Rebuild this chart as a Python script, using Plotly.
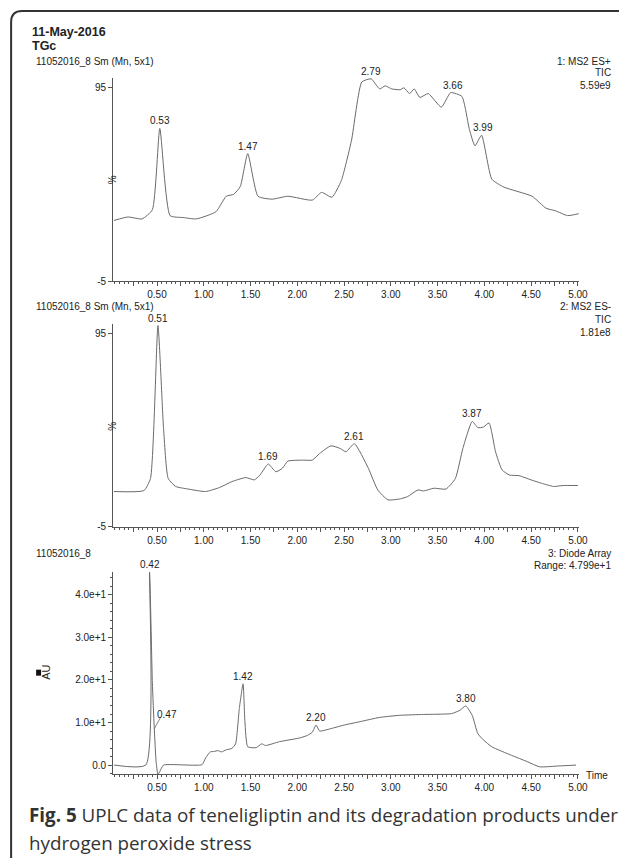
import plotly.graph_objects as go

# ---------------- data ----------------
t1 = [0.04, 0.19, 0.34, 0.45, 0.53, 0.64, 0.78, 0.92, 1.13, 1.24, 1.32, 1.39, 1.47, 1.58,
      1.73, 1.90, 2.16, 2.26, 2.37, 2.47, 2.58, 2.69, 2.79, 2.88, 2.94, 3.01, 3.10, 3.14,
      3.20, 3.25, 3.31, 3.40, 3.54, 3.64, 3.76, 3.84, 3.90, 3.97, 4.08, 4.21, 4.51, 4.66,
      4.76, 4.89, 5.01]
v1 = [26.5, 28.3, 27.3, 32.0, 74.0, 29.0, 28.0, 27.3, 31.0, 39.0, 40.0, 44.0, 61.0, 39.0,
      37.5, 39.0, 37.0, 41.0, 38.5, 47.0, 68.0, 98.0, 99.6, 94.4, 96.0, 94.4, 94.0, 95.0,
      92.0, 94.4, 90.0, 92.0, 85.0, 92.5, 90.5, 73.5, 65.0, 70.5, 47.8, 43.7, 39.0, 32.8,
      31.5, 29.0, 30.0]
peaks1 = [(0.53, 74.0), (1.47, 61.0), (2.79, 99.6), (3.66, 92.5), (3.99, 70.5)]

t2 = [0.04, 0.36, 0.43, 0.51, 0.57, 0.62, 0.70, 0.83, 1.02, 1.17, 1.30, 1.45, 1.54, 1.60,
      1.69, 1.77, 1.84, 1.90, 2.07, 2.16, 2.24, 2.36, 2.46, 2.52, 2.61, 2.76, 2.86, 2.97,
      3.10, 3.18, 3.29, 3.35, 3.46, 3.59, 3.69, 3.77, 3.87, 3.93, 3.99, 4.05, 4.12, 4.19,
      4.27, 4.37, 4.50, 4.61, 4.74, 4.84, 5.00]
v2 = [13.3, 13.8, 20.0, 99.0, 45.8, 20.0, 15.9, 14.6, 13.3, 15.4, 18.4, 20.5, 19.3, 21.8,
      27.5, 23.5, 25.3, 29.0, 29.5, 29.5, 33.0, 36.9, 35.5, 33.8, 38.0, 25.3, 14.1, 9.0,
      9.5, 10.7, 14.1, 13.6, 15.0, 14.6, 20.0, 35.5, 49.5, 46.3, 46.6, 48.7, 33.8, 24.4,
      21.8, 21.5, 19.3, 17.6, 15.9, 16.4, 16.4]
peaks2 = [(0.51, 99.0), (1.69, 27.5), (2.61, 38.0), (3.87, 49.5)]

t3 = [0.04, 0.38, 0.42, 0.45, 0.47, 0.49, 0.51, 0.53, 0.57, 0.98, 1.02, 1.07, 1.11, 1.15,
      1.19, 1.24, 1.30, 1.34, 1.38, 1.42, 1.44, 1.47, 1.56, 1.62, 1.66, 1.81, 2.03, 2.11,
      2.16, 2.20, 2.24, 2.33, 2.50, 2.67, 2.88, 3.10, 3.35, 3.65, 3.74, 3.80, 3.87, 3.93,
      3.99, 4.08, 4.29, 4.46, 4.59, 4.80, 4.98]
v3 = [0.0, 0.0, 45.4, 19.5, 9.0, 0.9, -2.2, -1.5, 0.0, 0.1, 1.7, 3.1, 3.2, 3.4,
      3.1, 3.6, 3.9, 5.0, 13.3, 19.1, 10.2, 4.3, 4.1, 5.0, 4.6, 5.5, 6.4, 7.0,
      7.7, 9.4, 8.0, 8.4, 9.4, 10.2, 11.2, 11.7, 11.9, 12.1, 12.9, 13.9, 11.7, 7.4,
      5.9, 4.3, 2.3, 0.8, -0.4, -0.2, 0.0]
peaks3 = [(0.42, 45.4), (1.42, 19.1), (2.20, 9.4), (3.80, 13.9)]
shoulder3 = (0.47, 9.0)

x_major = [0.25 * i for i in range(1, 21)]
x_labels = ["%.2f" % v if abs(v * 2 - round(v * 2)) < 1e-9 else "" for v in x_major]

# ---------------- figure ----------------
OFF = 8
SX, SY = 0.986, 0.995
W, H = 620, 850
FONT = "Liberation Sans, Arial, sans-serif"
LINE = "#6a6a6a"
AX = "#555555"
TXT = "#222222"


def px(X):
    return (X / SX - OFF) / W


def py(Y):
    return 1 - (Y / SY - OFF) / H


fig = go.Figure()

panels = [
    (t1, v1, peaks1, "x", "y"),
    (t2, v2, peaks2, "x2", "y2"),
    (t3, v3, peaks3, "x3", "y3"),
]
for t, v, peaks, xa, ya in panels:
    fig.add_trace(go.Scatter(x=t, y=v, mode="lines", xaxis=xa, yaxis=ya,
                             line=dict(color=LINE, width=1, shape="spline", smoothing=0.5),
                             hoverinfo="skip", showlegend=False))
    for pt, pv in peaks:
        fig.add_annotation(x=pt, y=pv, xref=xa, yref=ya, text="%.2f" % pt, showarrow=False,
                           yanchor="bottom", yshift=0,
                           font=dict(family=FONT, size=10, color=TXT))

st, sv = shoulder3
fig.add_shape(type="line", xref="x3", yref="y3", x0=st, y0=sv - 0.5, x1=st + 0.07, y1=sv + 2.3,
              line=dict(color=LINE, width=0.8))
fig.add_annotation(x=st + 0.01, y=sv + 3.0, xref="x3", yref="y3", text="%.2f" % st,
                   showarrow=False, xanchor="left", yanchor="middle",
                   font=dict(family=FONT, size=10, color=TXT))

xdom = [px(113), px(579)]
ydoms = [[py(282), py(78)], [py(528), py(325)], [py(776), py(573)]]
yranges = [[-5, 100.1], [-5, 99.6], [-2.2, 45.4]]

common_x = dict(range=[0.03, 5.01], domain=xdom, showgrid=False, zeroline=False,
                showline=True, linecolor=AX, linewidth=1, ticks="outside", ticklen=4,
                tickcolor=AX, tickwidth=1, tickmode="array", tickvals=x_major,
                ticktext=x_labels, tickfont=dict(family=FONT, size=10, color=TXT),
                minor=dict(dtick=0.05, tick0=0, ticks="outside", ticklen=2,
                           tickcolor=AX, tickwidth=1, showgrid=False))

for i, suf in enumerate(["", "2", "3"]):
    xa = dict(common_x, anchor="y" + suf)
    fig.layout["xaxis" + suf] = xa
    ya = dict(range=yranges[i], domain=ydoms[i], anchor="x" + suf, showgrid=False,
              zeroline=False, showline=True, linecolor=AX, linewidth=1, ticks="outside",
              ticklen=4, tickcolor=AX, tickwidth=1,
              tickfont=dict(family=FONT, size=10, color=TXT))
    if i < 2:
        ya.update(tickmode="array", tickvals=[-5, 95], ticktext=["-5", "95"])
    else:
        ya.update(tickmode="array", tickvals=[0, 10, 20, 30, 40],
                  ticktext=["0.0", "1.0e+1", "2.0e+1", "3.0e+1", "4.0e+1"],
                  minor=dict(dtick=2, tick0=0, ticks="outside", ticklen=2,
                             tickcolor=AX, tickwidth=1, showgrid=False))
    fig.layout["yaxis" + suf] = ya


def text(xp, yp, s, size=10, anchor="left", bold=False, angle=0, family=FONT, color=TXT):
    fig.add_annotation(x=px(xp), y=py(yp), xref="paper", yref="paper",
                       text=("<b>%s</b>" % s) if bold else s, showarrow=False,
                       xanchor=anchor, yanchor="middle", textangle=angle,
                       font=dict(family=family, size=size, color=color))


text(30, 32, "11-May-2016", size=12.5, bold=True)
text(30, 46, "TGc", size=12.5, bold=True)
text(34, 62, "11052016_8 Sm (Mn, 5x1)")
text(613, 62, "1: MS2 ES+", anchor="right")
text(613, 73, "TIC", anchor="right")
text(613, 86, "5.59e9", anchor="right")
text(105, 180, "%", angle=-90)

text(34, 307, "11052016_8 Sm (Mn, 5x1)")
text(613, 307, "2: MS2 ES-", anchor="right")
text(613, 320, "TIC", anchor="right")
text(613, 333, "1.81e8", anchor="right")
text(105, 427, "%", angle=-90)

text(34, 555, "11052016_8")
text(613, 555, "3: Diode Array", anchor="right")
text(613, 567, "Range: 4.799e+1", anchor="right")
text(46, 674, "AU", size=11, anchor="center", angle=-90)
text(584, 777, "Time")

CAP = "Open Sans, Noto Sans, sans-serif"
fig.add_annotation(x=px(27), y=py(817), xref="paper", yref="paper", showarrow=False,
                   xanchor="left", yanchor="middle",
                   text="<b>Fig. 5</b> UPLC data of teneligliptin and its degradation products under",
                   font=dict(family=CAP, size=18.8, color="#333333"))
fig.add_annotation(x=px(27), y=py(845), xref="paper", yref="paper", showarrow=False,
                   xanchor="left", yanchor="middle",
                   text="hydrogen peroxide stress",
                   font=dict(family=CAP, size=18.8, color="#333333"))

fig.add_shape(type="path", xref="paper", yref="paper",
              path="M %f %f L %f %f Q %f %f %f %f L %f %f" % (
                  px(640), py(11), px(22), py(11), px(11), py(11), px(11), py(22),
                  px(11), py(870)),
              line=dict(color="#333333", width=2))
fig.add_shape(type="rect", xref="paper", yref="paper",
              x0=px(36), x1=px(41), y0=py(677), y1=py(671),
              fillcolor="#111111", line=dict(width=0))

fig.update_layout(width=W, height=H, margin=dict(l=0, r=0, t=0, b=0),
                  paper_bgcolor="white", plot_bgcolor="white", showlegend=False)

fig.write_html("out.html")
